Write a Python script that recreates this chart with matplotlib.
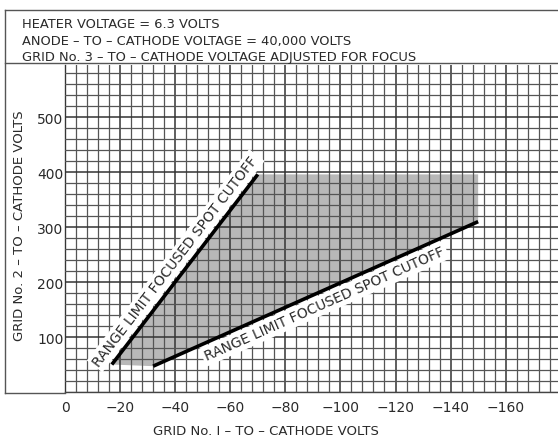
import matplotlib.pyplot as plt
import numpy as np

# cutoff range limits (grid No.1 volts, grid No.2 volts)
upper_limit_x = [-17, -70]
upper_limit_y = [50, 396]
lower_limit_x = [-32, -150]
lower_limit_y = [47, 310]
top_edge_y = 396          # top of the shaded operating area
right_edge_x = -150       # right edge of the shaded operating area

x_ticks = [0, -20, -40, -60, -80, -100, -120, -140, -160]
x_tick_labels = ['0', '−20', '−40', '−60', '−80', '−100', '−120', '−140', '−160']
y_ticks = [100, 200, 300, 400, 500]
y_tick_labels = ['100', '200', '300', '400', '500']

title_lines = [
    'HEATER VOLTAGE = 6.3 VOLTS',
    'ANODE – TO – CATHODE VOLTAGE = 40,000 VOLTS',
    'GRID No. 3 – TO – CATHODE VOLTAGE ADJUSTED FOR FOCUS',
]
limit_label = 'RANGE LIMIT FOCUSED SPOT CUTOFF'

W, H = 558, 439
fig = plt.figure(figsize=(W / 100, H / 100), dpi=100)
fig.patch.set_facecolor('white')
plt.rcParams['font.family'] = ['DejaVu Sans']

# axes placed in pixel terms
left, right, top, bottom = 65, 558, 66, 393
ax = fig.add_axes([left / W, 1 - bottom / H, (right - left) / W, (bottom - top) / H])
ax.set_xlim(0, -179)
ax.set_ylim(0, 595)

ink = '#2a2a2a'

# grid paper
ax.set_xticks(np.arange(0, -180, -4), minor=True)
ax.set_yticks(np.arange(0, 600, 20), minor=True)
ax.set_xticks(x_ticks)
ax.set_yticks(y_ticks)
ax.set_xticklabels(x_tick_labels)
ax.set_yticklabels(y_tick_labels)
ax.grid(which='minor', color='#555555', linewidth=0.9, zorder=2)
ax.grid(which='major', color='#333333', linewidth=1.1, zorder=2)
ax.set_axisbelow(False)
ax.tick_params(which='both', length=0)
ax.tick_params(axis='x', pad=6, labelsize=10, colors=ink)
ax.tick_params(axis='y', pad=1, labelsize=10, colors=ink)
for s in ['top', 'right']:
    ax.spines[s].set_visible(False)
for s in ['left', 'bottom']:
    ax.spines[s].set_color('#444444')
    ax.spines[s].set_linewidth(1.0)

# shaded operating area
poly_x = [upper_limit_x[0], upper_limit_x[1], right_edge_x, lower_limit_x[1], lower_limit_x[0]]
poly_y = [upper_limit_y[0], top_edge_y, top_edge_y, lower_limit_y[1], lower_limit_y[0]]
ax.fill(poly_x, poly_y, facecolor='#b8b8b8', edgecolor='none', zorder=1)

# range limit lines
ax.plot(upper_limit_x, upper_limit_y, color='black', linewidth=2.6, solid_capstyle='butt', zorder=4)
ax.plot(lower_limit_x, lower_limit_y, color='black', linewidth=2.6, solid_capstyle='butt', zorder=4)


def label_along(xs, ys, side, offset=9, shift=0.0):
    """Write the limit label parallel to a line, set off to one side of it."""
    p1 = ax.transData.transform((xs[0], ys[0]))
    p2 = ax.transData.transform((xs[1], ys[1]))
    d = p2 - p1
    ang = np.degrees(np.arctan2(d[1], d[0]))
    u = d / np.hypot(*d)
    n = np.array([-u[1], u[0]]) * side   # side=+1 left of direction, -1 right
    mx, my = (xs[0] + xs[1]) / 2, (ys[0] + ys[1]) / 2
    off = n * offset + u * shift
    ax.annotate(limit_label, (mx, my), xytext=(off[0], off[1]), textcoords='offset points',
                rotation=ang, rotation_mode='anchor', ha='center', va='center',
                fontsize=10, color=ink, zorder=5,
                bbox=dict(facecolor='white', edgecolor='none', pad=2))


label_along(upper_limit_x, upper_limit_y, side=+1, offset=9, shift=1)
label_along(lower_limit_x, lower_limit_y, side=-1, offset=9, shift=3)

# axis titles
fig.text(266 / W, 1 - 432 / H, 'GRID No. I – TO – CATHODE VOLTS', ha='center', va='center',
         fontsize=9.5, color=ink)
fig.text(20 / W, 1 - 226 / H, 'GRID No. 2 – TO – CATHODE VOLTS', ha='center', va='center',
         rotation=90, fontsize=9.5, color=ink)

# title block
for i, line in enumerate(title_lines):
    fig.text(22 / W, 1 - (25 + 16.5 * i) / H, line, ha='left', va='center', fontsize=9.4, color=ink)

# frame of the datasheet figure
frame = dict(color='#555555', linewidth=1.0, transform=fig.transFigure)
fig.add_artist(plt.Line2D([5 / W, 1], [1 - 11 / H, 1 - 11 / H], **frame))
fig.add_artist(plt.Line2D([5 / W, 1], [1 - 64 / H, 1 - 64 / H], **frame))
fig.add_artist(plt.Line2D([5 / W, 5 / W], [1 - 11 / H, 1 - 394 / H], **frame))
fig.add_artist(plt.Line2D([5 / W, left / W], [1 - 394 / H, 1 - 394 / H], **frame))

fig.savefig('out.png', dpi=100)
